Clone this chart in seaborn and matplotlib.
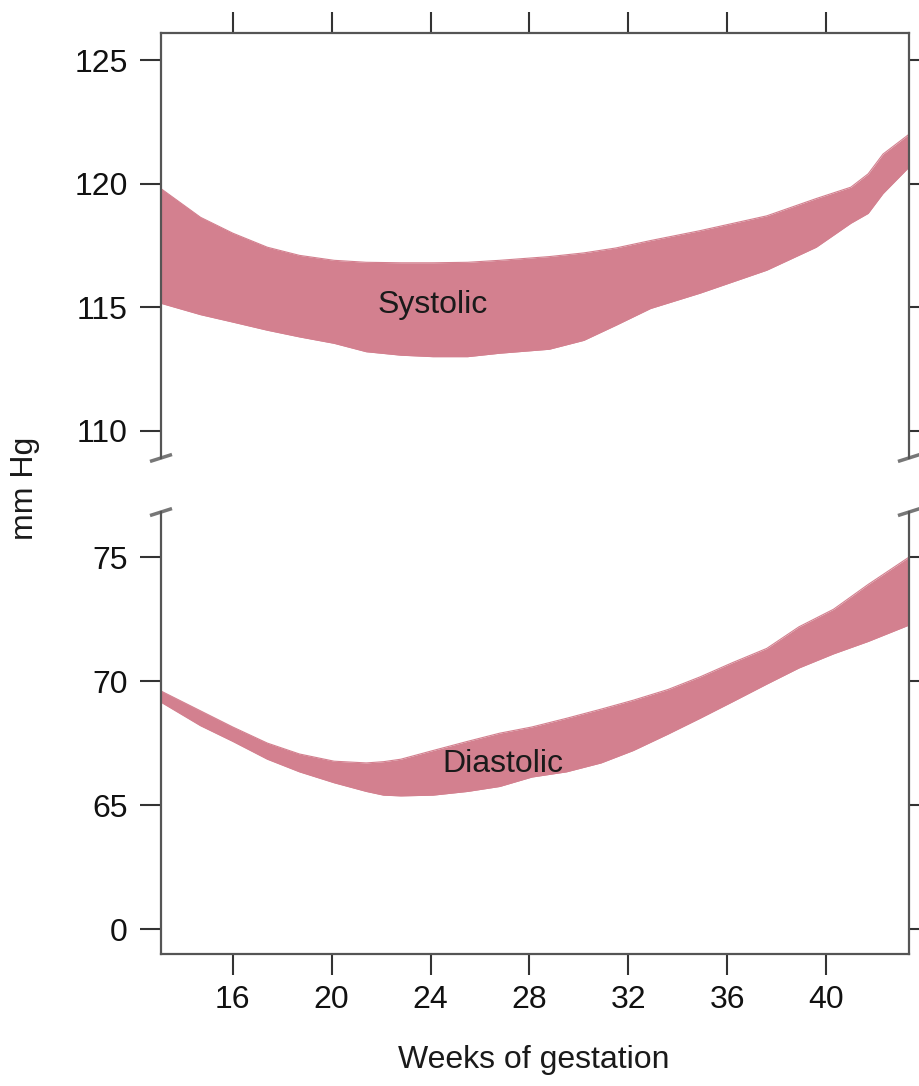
import numpy as np
import pandas as pd
import matplotlib.pyplot as plt
import seaborn as sns

# Band data (weeks of gestation, mm Hg)
sys_weeks = [13.1, 14.7, 16.0, 17.4, 18.7, 20.1, 21.4, 22.8, 24.1, 25.5, 26.8,
             28.8, 30.2, 31.5, 32.9, 34.9, 37.6, 39.6, 41.0, 41.7, 42.3, 43.35]
sys_low = [115.16, 114.7, 114.4, 114.07, 113.8, 113.54, 113.2, 113.06, 113.0, 113.0, 113.14,
           113.3, 113.66, 114.27, 114.95, 115.57, 116.5, 117.43, 118.4, 118.8, 119.6, 120.67]
sys_high = [119.8, 118.64, 118.0, 117.43, 117.1, 116.9, 116.82, 116.8, 116.8, 116.82, 116.9,
            117.05, 117.2, 117.4, 117.7, 118.1, 118.7, 119.4, 119.86, 120.4, 121.2, 122.0]

dia_weeks = [13.1, 14.7, 16.0, 17.4, 18.7, 20.1, 21.4, 22.1, 22.8, 24.1, 25.5, 26.8,
             28.1, 29.5, 30.9, 32.2, 33.6, 34.9, 36.2, 37.6, 38.9, 40.3, 41.7, 43.35]
dia_low = [69.15, 68.2, 67.57, 66.85, 66.34, 65.9, 65.55, 65.4, 65.37, 65.4, 65.55, 65.75,
           66.13, 66.34, 66.7, 67.2, 67.86, 68.5, 69.16, 69.88, 70.53, 71.1, 71.6, 72.26]
dia_high = [69.6, 68.8, 68.15, 67.5, 67.06, 66.77, 66.7, 66.75, 66.85, 67.2, 67.57, 67.9,
            68.15, 68.5, 68.87, 69.23, 69.66, 70.17, 70.74, 71.32, 72.19, 72.9, 73.9, 75.0]

x_ticks = [16, 20, 24, 28, 32, 36, 40]
top_ticks = [110, 115, 120, 125]
bot_ticks = [60, 65, 70, 75]
bot_labels = ['0', '65', '70', '75']  # broken axis: lowest tick reads 0

sns.set_theme(style='ticks')
plt.rcParams['font.family'] = ['Liberation Sans', 'DejaVu Sans']

band = '#d3808f'
spine_c = '#555555'
fs = 23

fig = plt.figure(figsize=(9.2, 10.86), dpi=100)
ax_top = fig.add_axes([0.175, 0.5783, 0.813, 0.3913])
ax_bot = fig.add_axes([0.175, 0.1215, 0.813, 0.4070])

sys_df = pd.DataFrame({'week': sys_weeks, 'low': sys_low, 'high': sys_high})
dia_df = pd.DataFrame({'week': dia_weeks, 'low': dia_low, 'high': dia_high})

for ax, df in [(ax_top, sys_df), (ax_bot, dia_df)]:
    ax.fill_between(df['week'], df['low'], df['high'], color=band, lw=0)
    sns.lineplot(data=df, x='week', y='low', color=band, lw=0.8, ax=ax)
    sns.lineplot(data=df, x='week', y='high', color=band, lw=0.8, ax=ax)
    ax.set_xlim(13.1, 43.35)
    ax.set_xticks(x_ticks)
    ax.set_xlabel('')
    ax.set_ylabel('')
    for s in ax.spines.values():
        s.set_color(spine_c)
        s.set_linewidth(1.6)
    ax.tick_params(axis='both', direction='out', length=15, width=1.5,
                   color='#333333', labelsize=fs, labelcolor='#111111')
    ax.tick_params(axis='y', right=True, labelright=False, pad=9)

ax_top.set_ylim(108.9, 126.1)
ax_top.set_yticks(top_ticks)
ax_top.spines['bottom'].set_visible(False)
ax_top.xaxis.tick_top()
ax_top.tick_params(axis='x', top=True, bottom=False, labeltop=False, labelbottom=False)

ax_bot.set_ylim(58.99, 76.82)
ax_bot.set_yticks(bot_ticks)
ax_bot.set_yticklabels(bot_labels)
ax_bot.spines['top'].set_visible(False)
ax_bot.tick_params(axis='x', pad=7)

# break marks on the spines
dx, dy_top, dy_bot = 0.0147, 0.0082, 0.0079
for xpos in (0, 1):
    ax_top.plot([xpos - dx, xpos + dx], [-dy_top, dy_top], transform=ax_top.transAxes,
                color='#777777', lw=2.5, clip_on=False, solid_capstyle='butt')
    ax_bot.plot([xpos - dx, xpos + dx], [1 - dy_bot, 1 + dy_bot], transform=ax_bot.transAxes,
                color='#777777', lw=2.5, clip_on=False, solid_capstyle='butt')

ax_top.text(24.1, 115.08, 'Systolic', fontsize=fs, ha='center', va='center', color='#1a1a1a')
ax_bot.text(26.93, 66.66, 'Diastolic', fontsize=fs, ha='center', va='center', color='#1a1a1a')

fig.text(25 / 920, 1 - 488 / 1086, 'mm Hg', rotation=90, fontsize=fs,
         ha='center', va='center', color='#1a1a1a')
fig.text(534 / 920, 1 - 1060 / 1086, 'Weeks of gestation', fontsize=fs,
         ha='center', va='center', color='#1a1a1a')

plt.savefig('out.png', dpi=100)
